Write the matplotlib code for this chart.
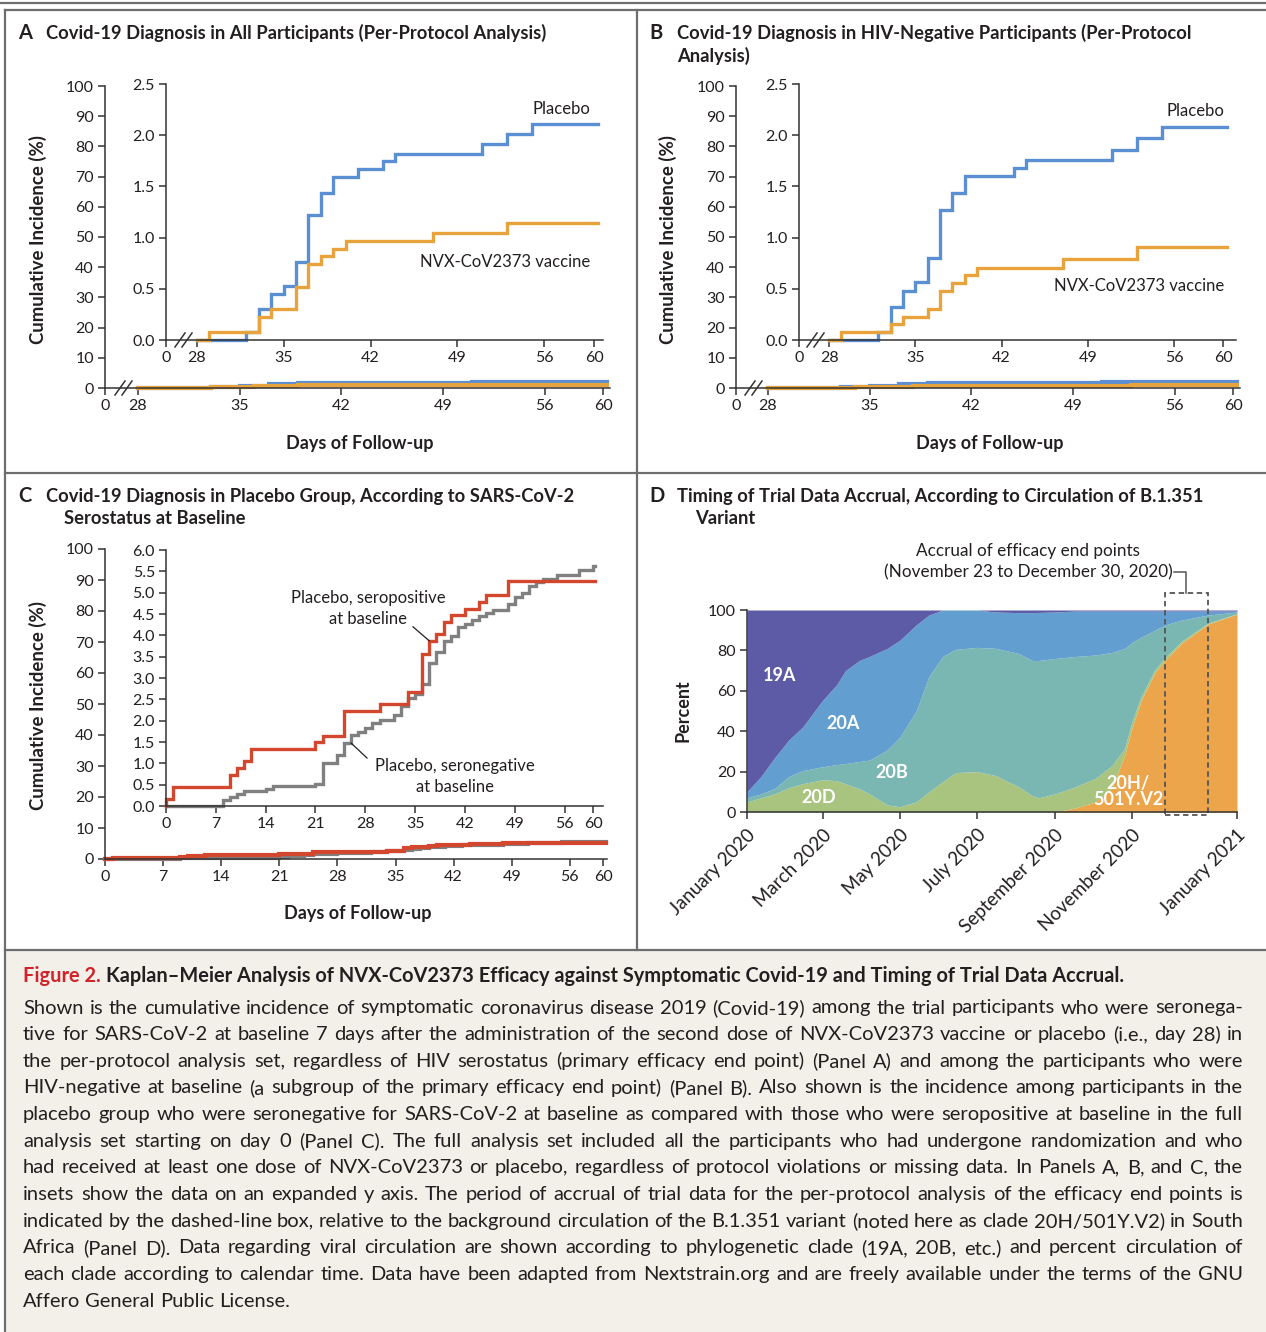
import numpy as np
import matplotlib
matplotlib.use("Agg")
import matplotlib.pyplot as plt
from matplotlib.lines import Line2D
from matplotlib.patches import Rectangle

W, H = 1266, 1332
plt.rcParams['font.family'] = ['Lato', 'DejaVu Sans']
TXT = '#231f20'
BLUE = '#5a8fd4'
ORANGE = '#e9a33d'
RED = '#d2472e'
GREY = '#808080'

# Panel A: all participants (per-protocol), cumulative incidence (%)
a_days_placebo = [28, 32, 33, 34, 35, 36, 37, 38, 39, 41, 43, 44, 51, 53, 55]
a_placebo = [0, 0.075, 0.30, 0.45, 0.53, 0.76, 1.22, 1.435, 1.59, 1.67, 1.75, 1.82, 1.91, 2.01, 2.11]
a_days_vaccine = [28, 29, 33, 34, 36, 37, 38, 39, 40, 47, 53]
a_vaccine = [0, 0.08, 0.225, 0.30, 0.52, 0.74, 0.82, 0.89, 0.967, 1.045, 1.14]

# Panel B: HIV-negative participants
b_days_placebo = [28, 32, 33, 34, 35, 36, 37, 38, 39, 43, 44, 51, 53, 55]
b_placebo = [0, 0.075, 0.32, 0.48, 0.57, 0.80, 1.27, 1.44, 1.60, 1.68, 1.76, 1.855, 1.97, 2.08]
b_days_vaccine = [28, 29, 33, 34, 36, 37, 38, 39, 40, 47, 53]
b_vaccine = [0, 0.075, 0.156, 0.228, 0.306, 0.48, 0.56, 0.63, 0.70, 0.79, 0.91]

# Panel C: placebo group by baseline serostatus
c_days_pos = [0, 0, 1, 9, 10, 11, 12, 21, 22, 25, 30, 34, 36, 37, 38, 39, 40, 42, 44, 45, 48]
c_pos = [0, 0.16, 0.45, 0.73, 0.88, 1.05, 1.33, 1.49, 1.64, 2.23, 2.39, 2.68, 3.57, 3.87, 4.02,
         4.32, 4.47, 4.62, 4.77, 4.94, 5.27]
c_days_neg = [0, 8, 9, 10, 11, 14, 15, 21, 22, 24, 25, 26, 27, 28, 29, 30, 32, 33, 34, 35,
              36, 37, 38, 39, 40, 41, 42, 43, 44, 45, 46, 48, 49, 50, 51, 52, 53, 55, 58, 60]
c_neg = [0, 0.14, 0.20, 0.27, 0.35, 0.41, 0.47, 0.52, 1.0, 1.20, 1.48, 1.66, 1.74, 1.82, 1.94,
         2.02, 2.13, 2.34, 2.52, 2.62, 2.85, 3.34, 3.60, 3.87, 3.99, 4.19, 4.26, 4.37, 4.46,
         4.53, 4.59, 4.73, 4.89, 5.0, 5.16, 5.24, 5.31, 5.41, 5.52, 5.62]

# Panel D: clade circulation, days since 1 Jan 2020, cumulative upper edge of each clade (%)
d_days = [0, 11, 22, 33, 44, 60, 71, 78, 89, 97, 111, 121, 134, 144, 155, 165, 182, 197, 215,
          226, 231, 244, 260, 276, 289, 299, 305, 312, 323, 331, 344, 365, 388]
top_20h = [0] * 22 + [2, 5, 12, 28, 42, 55, 69, 75, 83.5, 93, 98]
top_20d = [5, 7, 9, 12, 14, 16, 15.5, 14, 11.5, 9, 3.5, 2.6, 5, 10, 15, 19.5, 20, 18, 12.5, 8,
           7, 9, 12.5, 16.7, 23, 31.5, 45, 57, 70.5, 76.5, 84.5, 93.5, 98.2]
top_20b = [7, 9, 11.7, 17.5, 20.5, 22.4, 23.5, 24, 25, 25.7, 30.7, 37, 50, 67, 77, 80.5, 81.5,
           81, 78.5, 75, 75, 76, 77, 77.7, 79, 81, 84, 86.5, 90, 92.6, 95, 97.5, 99]
top_20a = [10, 17.5, 27, 35.6, 42, 55.4, 63, 70, 75, 77, 81, 85, 92.6, 97.5, 100, 100, 100, 99,
           98.7, 98.7, 98.8, 99] + [99.5] * 11
clade_names = ['20H/\n501Y.V2', '20D', '20B', '20A', '19A']
clade_colors = ['#eda54c', '#a8c47f', '#7ab7b3', '#629ecf', '#5d5ba6']
month_ticks = [0, 60, 121, 182, 244, 305, 388]
month_labels = ['January 2020', 'March 2020', 'May 2020', 'July 2020',
                'September 2020', 'November 2020', 'January 2021']
accrual_window = [331, 365]

caption_lines = [
    "Shown is the cumulative incidence of symptomatic coronavirus disease 2019 (Covid-19) among the trial participants who were seronega-",
    "tive for SARS-CoV-2 at baseline 7 days after the administration of the second dose of NVX-CoV2373 vaccine or placebo (i.e., day 28) in",
    "the per-protocol analysis set, regardless of HIV serostatus (primary efficacy end point) (Panel A) and among the participants who were",
    "HIV-negative at baseline (a subgroup of the primary efficacy end point) (Panel B). Also shown is the incidence among participants in the",
    "placebo group who were seronegative for SARS-CoV-2 at baseline as compared with those who were seropositive at baseline in the full",
    "analysis set starting on day 0 (Panel C). The full analysis set included all the participants who had undergone randomization and who",
    "had received at least one dose of NVX-CoV2373 or placebo, regardless of protocol violations or missing data. In Panels A, B, and C, the",
    "insets show the data on an expanded y axis. The period of accrual of trial data for the per-protocol analysis of the efficacy end points is",
    "indicated by the dashed-line box, relative to the background circulation of the B.1.351 variant (noted here as clade 20H/501Y.V2) in South",
    "Africa (Panel D). Data regarding viral circulation are shown according to phylogenetic clade (19A, 20B, etc.) and percent circulation of",
    "each clade according to calendar time. Data have been adapted from Nextstrain.org and are freely available under the terms of the GNU",
    "Affero General Public License.",
]

fig = plt.figure(figsize=(W / 100, H / 100), dpi=100)
fig.patch.set_facecolor('white')


def fy(y):
    return 1 - y / H


def add_ax(l, t, r, b):
    ax = fig.add_axes([l / W, fy(b), (r - l) / W, (b - t) / H])
    ax.set_facecolor('none')
    for s in ['top', 'right']:
        ax.spines[s].set_visible(False)
    for s in ['left', 'bottom']:
        ax.spines[s].set_color('#333333')
        ax.spines[s].set_linewidth(1.1)
    ax.tick_params(length=5, width=1.1, color='#333333', labelsize=11.5, labelcolor=TXT, pad=3)
    return ax


def fig_line(xs, ys, **kw):
    fig.add_artist(Line2D([x / W for x in xs], [fy(y) for y in ys],
                          transform=fig.transFigure, **kw))


def slashes(x, y):
    for dx in (0, 7):
        fig_line([x + dx - 5, x + dx + 5], [y + 7, y - 7], color='#333333', lw=1.1)


def km(ax, days, vals, end, color, lw=2.4):
    ax.step(list(days) + [end], list(vals) + [vals[-1]], where='post', color=color,
            lw=lw, clip_on=False, solid_joinstyle='miter')


def km_panel(box_main, box_inset, main_xlim, inset_xlim, series, label_pos, yl_x, xl_y):
    ax = add_ax(*box_main)
    for days, vals, col in series:
        km(ax, days, vals, 60.3, col, lw=3)
    ax.set_xlim(*main_xlim)
    ax.set_ylim(0, 100)
    ax.set_yticks(range(0, 101, 10))
    ax.set_xticks([main_xlim[0], 28, 35, 42, 49, 56, 60])
    ax.set_xticklabels(['0', '28', '35', '42', '49', '56', '60'])
    ins = add_ax(*box_inset)
    for days, vals, col in series:
        km(ins, days, vals, 60.3, col)
    ins.set_xlim(*inset_xlim)
    ins.set_ylim(0, 2.5)
    ins.set_yticks(np.arange(0, 2.51, 0.5))
    ins.set_yticklabels([f'{v:.1f}' for v in np.arange(0, 2.51, 0.5)])
    ins.set_xticks([inset_xlim[0], 28, 35, 42, 49, 56, 60])
    ins.set_xticklabels(['0', '28', '35', '42', '49', '56', '60'])
    (px, py), (vx, vy) = label_pos
    ins.text(px, py, 'Placebo', ha='right', va='center', fontsize=12, color=TXT)
    ins.text(vx, vy, 'NVX-CoV2373 vaccine', ha='right', va='center', fontsize=12, color=TXT)
    fig.text(yl_x / W, fy(240), 'Cumulative Incidence (%)',
             rotation=90, ha='center', va='center', fontsize=13.4, fontweight='bold', color=TXT)
    fig.text((box_main[0] + box_main[2]) / 2 / W + 2 / W, fy(xl_y), 'Days of Follow-up',
             ha='center', va='center', fontsize=13, fontweight='bold', color=TXT)
    return ax, ins


# Panel A
km_panel((105, 86, 610, 388), (166, 84, 603, 340), (25.73, 60.48), (25.53, 60.72),
         [(a_days_placebo, a_placebo, BLUE), (a_days_vaccine, a_vaccine, ORANGE)],
         ((59.7, 2.256), (59.7, 0.76)), 38, 443)
slashes(120, 388)
slashes(180, 340)

# Panel B
km_panel((736, 86, 1240, 388), (799, 84, 1236, 340), (25.8, 60.48), (25.56, 61.03),
         [(b_days_placebo, b_placebo, BLUE), (b_days_vaccine, b_vaccine, ORANGE)],
         ((60.05, 2.236), (60.05, 0.527)), 668, 443)
slashes(750, 388)
slashes(812, 340)

# Panel C
axc = add_ax(105, 549, 607, 859)
km(axc, c_days_neg, c_neg, 60.3, GREY, lw=3)
km(axc, c_days_pos, c_pos, 60.3, RED, lw=3)
axc.set_xlim(0, 60.48)
axc.set_ylim(0, 100)
axc.set_yticks(range(0, 101, 10))
axc.set_xticks([0, 7, 14, 21, 28, 35, 42, 49, 56, 60])
insc = add_ax(166, 550, 603, 806)
km(insc, c_days_neg, c_neg, 60.3, GREY)
km(insc, c_days_pos, c_pos, 60.3, RED)
insc.set_xlim(0, 61.4)
insc.set_ylim(0, 6)
insc.set_yticks(np.arange(0, 6.01, 0.5))
insc.set_yticklabels([f'{v:.1f}' for v in np.arange(0, 6.01, 0.5)])
insc.set_xticks([0, 7, 14, 21, 28, 35, 42, 49, 56, 60])
insc.text(28.4, 4.63, 'Placebo, seropositive\nat baseline', ha='center', va='center',
          fontsize=12, color=TXT, linespacing=1.35)
insc.plot([34.7, 37], [4.2, 3.87], color=TXT, lw=0.9)
insc.text(40.6, 0.69, 'Placebo, seronegative\nat baseline', ha='center', va='center',
          fontsize=12, color=TXT, linespacing=1.35)
insc.plot([28.24, 26.0], [1.125, 1.476], color=TXT, lw=0.9)
fig.text(38 / W, fy(705), 'Cumulative Incidence (%)', rotation=90, ha='center', va='center',
         fontsize=13.4, fontweight='bold', color=TXT)
fig.text(358 / W, fy(913), 'Days of Follow-up', ha='center', va='center',
         fontsize=13, fontweight='bold', color=TXT)

# Panel D
axd = add_ax(747, 610, 1237, 812)
lower = np.zeros(len(d_days))
for top, col in zip([top_20h, top_20d, top_20b, top_20a, [100] * len(d_days)], clade_colors):
    axd.fill_between(d_days, lower, top, color=col, lw=0)
    lower = np.array(top, dtype=float)
axd.set_xlim(0, 388)
axd.set_ylim(0, 100)
axd.set_yticks(range(0, 101, 20))
axd.set_xticks(month_ticks)
axd.set_xticklabels(month_labels, rotation=45, ha='right', va='top', rotation_mode='anchor',
                    fontsize=13.5)
axd.tick_params(axis='x', pad=5)
axd.set_ylabel('Percent', fontsize=13, fontweight='bold', color=TXT, labelpad=12)
for name, (x, y) in zip(clade_names, [(301.7, 10), (57, 7), (115, 19.8), (76, 44), (26, 67.8)]):
    axd.text(x, y, name, ha='center', va='center', color='white', fontsize=13,
             fontweight='bold', linespacing=0.95)
x0, x1 = accrual_window
axd.add_patch(Rectangle((x0, -1.5), x1 - x0, 110, fill=False, ls=(0, (3, 2)), lw=1.3,
                        ec='#555555', clip_on=False))
xm = (x0 + x1) / 2
axd.plot([338.5, xm, xm], [118.8, 118.8, 108.5], color='#555555', lw=1.1, clip_on=False)
axd.text(222.5, 129.3, 'Accrual of efficacy end points', ha='center', va='center',
         fontsize=12.3, color=TXT)
axd.text(222.5, 118.8, '(November 23 to December 30, 2020)', ha='center', va='center',
         fontsize=12.3, color=TXT)

# panel titles
titles = [
    (18, 33, 'A', 46, ['Covid-19 Diagnosis in All Participants (Per-Protocol Analysis)'], 46),
    (649, 33, 'B', 677, ['Covid-19 Diagnosis in HIV-Negative Participants (Per-Protocol',
                         'Analysis)'], 677),
    (18, 496, 'C', 46, ['Covid-19 Diagnosis in Placebo Group, According to SARS-CoV-2',
                        'Serostatus at Baseline'], 64),
    (649, 496, 'D', 677, ['Timing of Trial Data Accrual, According to Circulation of B.1.351',
                          'Variant'], 695),
]
for lx, ly, letter, tx, lines, tx2 in titles:
    fig.text(lx / W, fy(ly), letter, ha='left', va='center', fontsize=14.5, fontweight='bold',
             color=TXT)
    for i, line in enumerate(lines):
        fig.text((tx if i == 0 else tx2) / W, fy(ly + 23 * i), line, ha='left', va='center',
                 fontsize=13.2, fontweight='bold', color=TXT)

# frame and caption background
fig.add_artist(Rectangle((5 / W, 0), 1 - 5 / W, fy(950), transform=fig.transFigure,
                         color='#f3f0ea', zorder=-5))
frame = dict(color='#6e6e6e', lw=1.6)
fig_line([0, W], [3, 3], **frame)
fig_line([5, W], [10, 10], **frame)
fig_line([5, 5], [10, H], **frame)
fig_line([637, 637], [10, 950], **frame)
fig_line([5, W], [473, 473], **frame)
fig_line([5, W], [950, 950], **frame)

# caption
CAP = 14.5
renderer = fig.canvas.get_renderer()
t1 = fig.text(23 / W, fy(976), 'Figure 2.', ha='left', va='center', fontsize=14.4,
              fontweight='bold', color='#d1232a')
w1 = t1.get_window_extent(renderer).width
fig.text((23 + w1 + 5) / W, fy(976),
         'Kaplan\u2013Meier Analysis of NVX-CoV2373 Efficacy against Symptomatic Covid-19 '
         'and Timing of Trial Data Accrual.', ha='left', va='center', fontsize=14.4,
         fontweight='bold', color=TXT)


def text_width(s):
    t = fig.text(0, 0, s, fontsize=CAP)
    w = t.get_window_extent(renderer).width
    t.remove()
    return w


cap_left, cap_right = 23, 1243
space = text_width('a a') - text_width('aa')
for i, line in enumerate(caption_lines):
    y = fy(1008 + 26.65 * i)
    words = line.split(' ')
    arts = [fig.text(0, y, w, ha='left', va='center', fontsize=CAP, color=TXT) for w in words]
    widths = [a.get_window_extent(renderer).width for a in arts]
    if i < len(caption_lines) - 1:
        gap = (cap_right - cap_left - sum(widths)) / (len(words) - 1)
    else:
        gap = space
    x = cap_left
    for a, w in zip(arts, widths):
        a.set_x(x / W)
        x += w + gap

fig.savefig('out.png', dpi=100)
